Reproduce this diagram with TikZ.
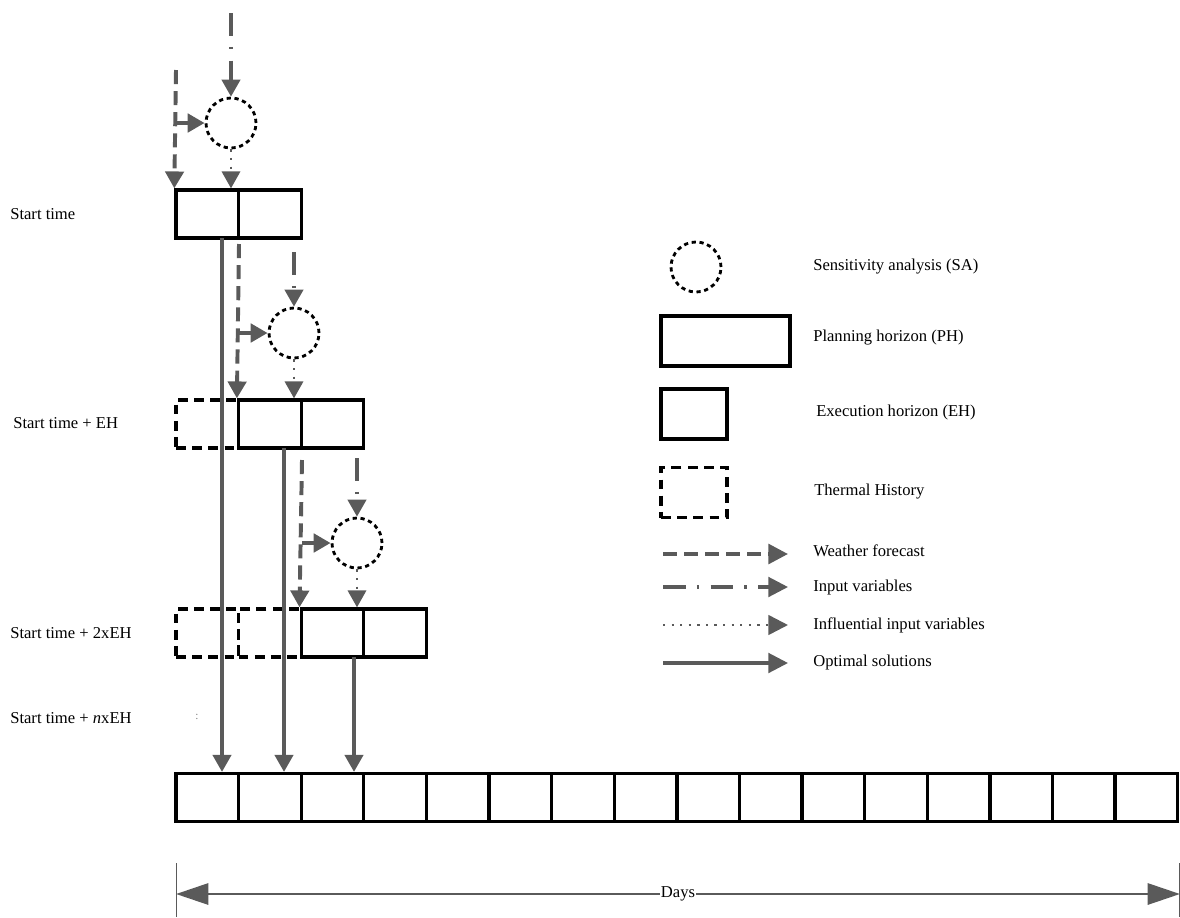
\documentclass[tikz,border=0pt]{standalone}
\usepackage{fontspec}
\setmainfont{Liberation Serif}
\usetikzlibrary{arrows.meta}
\definecolor{flowgray}{RGB}{90,90,90}
\tikzset{
  every node/.style={font=\fontsize{11.8}{13}\selectfont},
  txt/.style={anchor=west,inner sep=0pt},
  cell/.style={draw,line width=2.4pt,minimum width=1.565cm,minimum height=1.2cm,inner sep=0pt},
  history/.style={cell,dash pattern=on 7pt off 4.5pt},
  sa/.style={draw,circle,line width=2pt,dash pattern=on 3pt off 2.6pt,minimum size=1.25cm,inner sep=0pt},
  tip/.style={-{Triangle[length=12pt,width=13pt]}},
  weather/.style={tip,flowgray,line width=2.8pt,dash pattern=on 10pt off 5pt},
  branch/.style={tip,flowgray,line width=2.8pt},
  input/.style={tip,flowgray,line width=2.2pt,dash pattern=on 16pt off 8pt on 1.8pt off 8pt},
  influential/.style={tip,flowgray,line width=1.8pt,dash pattern=on 1.6pt off 4.5pt},
  optimal/.style={tip,flowgray,line width=2.2pt},
  days/.style={{Triangle[length=23pt,width=15pt]}-{Triangle[length=23pt,width=15pt]},flowgray,line width=2pt}
}
\begin{document}
\begin{tikzpicture}[x=0.025cm,y=-0.025cm]

\useasboundingbox (0,0) rectangle (1180,917);

% time labels
\node[txt] (t0) at (10,214) {Start time};
\node[txt] (t1) at (13,423) {Start time + EH};
\node[txt] (t2) at (10,633) {Start time + 2xEH};
\node[txt] (tn) at (10,718) {Start time + \textit{n}xEH};
\node[inner sep=0pt,text=gray] (vd) at (197,717) {\footnotesize :};

% horizons
\node[history] (r2h) at (207.3,424) {};
\node[history] (r3h1) at (207.3,633) {};
\node[history] (r3h2) at (269.9,633) {};
\node[cell] (r1a) at (207.3,214) {};
\node[cell] (r1b) at (269.9,214) {};
\node[cell] (r2a) at (269.9,424) {};
\node[cell] (r2b) at (332.5,424) {};
\node[cell] (r3a) at (332.5,633) {};
\node[cell] (r3b) at (395.1,633) {};

\foreach \k in {0,...,15}{% one cell per day
  \node[cell] (d\k) at ({176+62.6*(\k+0.5)},797.5) {};}

% sensitivity analyses
\node[sa] (sa1) at (231,123) {};
\node[sa] (sa2) at (294,333) {};
\node[sa] (sa3) at (357,543) {};

% first run
\coordinate (w1) at (176,70);
\coordinate (i1) at (231,13);
\coordinate (o1) at (222,238);
\draw[weather] (w1) -- (r1a.north west);
\draw[branch] (w1 |- sa1.west) -- (sa1.west);
\draw[input] (i1) -- (sa1.north);
\draw[influential] (sa1.south) -- (sa1 |- r1a.north);
\draw[optimal] (o1) -- (o1 |- d0.north);

% second run
\coordinate (w2) at (239,244);
\coordinate (i2) at (294,252);
\coordinate (o2) at (284,448);
\draw[weather] (w2) -- (r2a.north west);
\draw[branch] (w2 |- sa2.west) -- (sa2.west);
\draw[input] (i2) -- (sa2.north);
\draw[influential] (sa2.south) -- (sa2 |- r2a.north);
\draw[optimal] (o2) -- (o2 |- d1.north);

% third run
\coordinate (w3) at (302,460);
\coordinate (i3) at (357,458);
\coordinate (o3) at (354,657);
\draw[weather] (w3) -- (r3a.north west);
\draw[branch] (w3 |- sa3.west) -- (sa3.west);
\draw[input] (i3) -- (sa3.north);
\draw[influential] (sa3.south) -- (sa3 |- r3a.north);
\draw[optimal] (o3) -- (o3 |- d2.north);

% legend
\node[sa] (lsa) at (696,267) {};
\node[txt] (tsa) at (813,267) {Sensitivity analysis (SA)};
\node[cell,minimum width=3.225cm,minimum height=1.25cm] (lph) at (725.5,341) {};
\node[txt] (tph) at (813,338) {Planning horizon (PH)};
\node[cell,minimum width=1.65cm,minimum height=1.25cm] (leh) at (694,414) {};
\node[txt] (teh) at (816,412) {Execution horizon (EH)};
\node[history,minimum width=1.65cm,minimum height=1.25cm] (lth) at (694,492.5) {};
\node[txt] (tth) at (814,492) {Thermal History};

\coordinate (lw0) at (663,554); \coordinate (lw1) at (788,554);
\coordinate (li0) at (663,587); \coordinate (li1) at (788,587);
\coordinate (lf0) at (663,625); \coordinate (lf1) at (788,625);
\coordinate (lo0) at (663,663); \coordinate (lo1) at (788,663);
\draw[weather,-{Triangle[length=14pt,width=14pt]}] (lw0) -- (lw1);
\draw[input,-{Triangle[length=14pt,width=14pt]}] (li0) -- (li1);
\draw[influential,-{Triangle[length=14pt,width=14pt]}] (lf0) -- (lf1);
\draw[optimal,-{Triangle[length=14pt,width=14pt]}] (lo0) -- (lo1);
\node[txt] (tw) at (813,551) {Weather forecast};
\node[txt] (ti) at (813,587) {Input variables};
\node[txt] (tf) at (813,625) {Influential input variables};
\node[txt] (to) at (813,662) {Optimal solutions};

% days axis
\coordinate (dl) at (176,894);
\coordinate (dr) at (1180,894);
\draw[flowgray,line width=0.6pt] (176,863) -- (176,917);
\draw[flowgray,line width=0.6pt] (1179,863) -- (1179,917);
\draw[days] (dl) -- (dr);
\node[fill=white,inner sep=1pt] (days) at (678,894) {Days};

\end{tikzpicture}
\end{document}
